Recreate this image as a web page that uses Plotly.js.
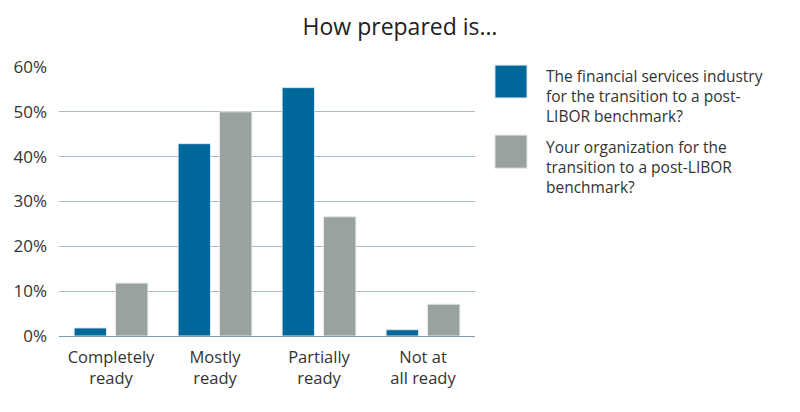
<!DOCTYPE html>
<html><head><meta charset="utf-8">
<script src="https://cdn.plot.ly/plotly-3.0.1.min.js"></script>
<style>html,body{margin:0;padding:0;background:#fff}#chart{width:800px;height:412px}</style>
</head><body><div id="chart"></div>
<script>
const categories = ["Completely<br>ready", "Mostly<br>ready", "Partially<br>ready", "Not at<br>all ready"];
const industryName = "The financial services industry<br>for the transition to a post-<br>LIBOR benchmark?";
const orgName = "Your organization for the<br>transition to a post-LIBOR<br>benchmark?";
const industryValues = [1.8, 42.9, 55.4, 1.4];
const orgValues = [11.8, 50.0, 26.6, 7.1];
const yTicks = [0, 10, 20, 30, 40, 50, 60];
const yTickLabels = ["0%", "10%", "20%", "30%", "40%", "50%", "60%"];

const blue = "#00679a";
const gray = "#9aa2a0";
const font = "'Open Sans', 'DejaVu Sans', sans-serif";

const traces = [
  {type: "bar", x: categories, y: industryValues, name: industryName,
   marker: {color: blue, line: {color: "#dfe6ea", width: 1}}, hoverinfo: "y"},
  {type: "bar", x: categories, y: orgValues, name: orgName,
   marker: {color: gray, line: {color: "#e4e8e7", width: 1}}, hoverinfo: "y"}
];

const layout = {
  width: 800, height: 412,
  margin: {l: 59, r: 325, t: 67, b: 76},
  paper_bgcolor: "#fff", plot_bgcolor: "#fff",
  font: {family: font, color: "#333", size: 15},
  title: {text: "How prepared is…", x: 0.5, xref: "container", xanchor: "center", y: 0.955, yref: "container",
          font: {family: font, size: 23, color: "#222"}},
  showlegend: false,
  barmode: "group", bargap: 0.204, bargroupgap: 0.218,
  xaxis: {tickfont: {size: 16.5, color: "#333"}, showgrid: false, ticks: "", showline: false, fixedrange: true,
          ticklabelstandoff: 9},
  yaxis: {range: [0, 60], tickmode: "array", tickvals: yTicks, ticktext: yTickLabels,
          tickfont: {size: 17, color: "#333"}, ticklabelstandoff: 11,
          showgrid: true, gridcolor: "#a9bac6", gridwidth: 1, zeroline: true, zerolinecolor: "#7f99ad",
          zerolinewidth: 1, ticks: "", showline: false, fixedrange: true},
  shapes: [
    {type: "rect", xref: "paper", yref: "paper", x0: 1.048, x1: 1.125, y0: 0.885, y1: 1.007,
     fillcolor: blue, line: {color: "#dfe6ea", width: 1}},
    {type: "rect", xref: "paper", yref: "paper", x0: 1.048, x1: 1.125, y0: 0.624, y1: 0.747,
     fillcolor: gray, line: {color: "#e4e8e7", width: 1}}
  ],
  annotations: [
    {xref: "paper", yref: "paper", x: 1.166, y: 1.014, xanchor: "left", yanchor: "top", align: "left",
     text: industryName, showarrow: false, font: {size: 15.5, color: "#333", family: font}},
    {xref: "paper", yref: "paper", x: 1.166, y: 0.752, xanchor: "left", yanchor: "top", align: "left",
     text: orgName, showarrow: false, font: {size: 15.5, color: "#333", family: font}}
  ]
};

Plotly.newPlot("chart", traces, layout, {displayModeBar: false, staticPlot: true});
</script></body></html>
